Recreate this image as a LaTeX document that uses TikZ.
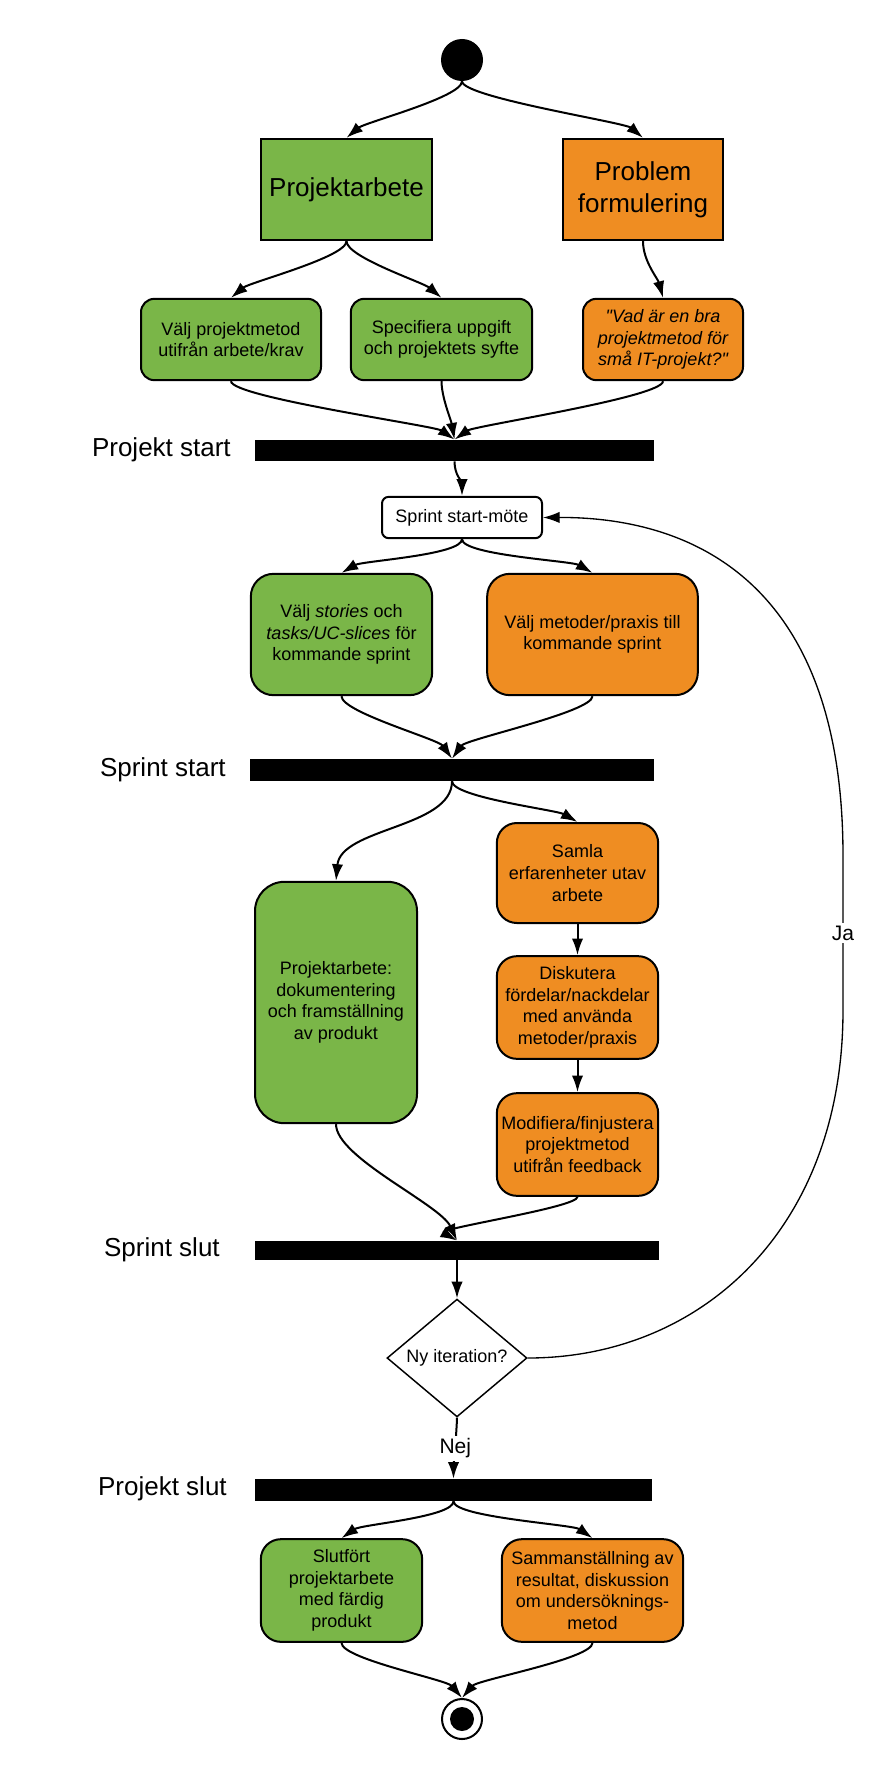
\documentclass[tikz,border=0pt]{standalone}
\usepackage{fontspec}
\setmainfont{Liberation Sans}
\usetikzlibrary{shapes.geometric,arrows.meta}
\definecolor{arbgreen}{HTML}{7AB648}
\definecolor{metorange}{HTML}{EF8D22}

\begin{document}
\begin{tikzpicture}[x=0.75pt,y=0.75pt]
        \useasboundingbox (0,0) rectangle (892,-1780);

        % start and end
        \node[circle,fill=black,minimum size=31.5pt,inner sep=0] (start) at (462,-60) {};
        \node[circle,draw,line width=1.5pt,fill=white,minimum size=30pt,inner sep=0] (end) at (462,-1719) {};
        \node[circle,fill=black,minimum size=18pt,inner sep=0] (endin) at (462,-1719) {};

        % bars
        \begin{scope}[every node/.style={fill=black,inner sep=0}]
          \node[minimum width=299pt,minimum height=16pt]   (bar1) at (454.5,-450.5) {};
          \node[minimum width=303pt,minimum height=16.5pt] (bar2) at (452,-770) {};
          \node[minimum width=303pt,minimum height=14.5pt] (bar3) at (457,-1250.5) {};
          \node[minimum width=298pt,minimum height=16.5pt] (bar4) at (453.5,-1490) {};
        \end{scope}

        \begin{scope}[every node/.style={anchor=base east,inner sep=0,font=\fontsize{19.5}{24}\selectfont}]
          \node (lbl1) at (231,-456) {Projekt start};
          \node (lbl2) at (226,-776) {Sprint start};
          \node (lbl3) at (220,-1256) {Sprint slut};
          \node (lbl4) at (227,-1495) {Projekt slut};
        \end{scope}

        % activities
        \begin{scope}[every node/.style={draw,line width=1.5pt,align=center,inner sep=2pt,
            rounded corners=15pt,font=\fontsize{13.5}{16.2}\selectfont}]
          \node[fill=arbgreen,sharp corners,minimum width=128pt,minimum height=76pt,
                font=\fontsize{19.5}{24}\selectfont] (pa) at (346.5,-189.5) {Projektarbete};
          \node[fill=metorange,sharp corners,minimum width=120pt,minimum height=76pt,
                font=\fontsize{19.5}{24}\selectfont] (pf) at (643,-189.5) {Problem\\formulering};

          \node[fill=arbgreen,minimum width=135pt,minimum height=61pt,rounded corners=10pt] (metod) at (231,-339.5)
            {Välj projektmetod\\utifrån arbete/krav};
          \node[fill=arbgreen,minimum width=136pt,minimum height=61pt,rounded corners=10pt] (syfte) at (441.5,-339.5)
            {Specifiera uppgift\\och projektets syfte};
          \node[fill=metorange,minimum width=120pt,minimum height=61pt,rounded corners=10pt,
                font=\fontsize{13.5}{16.2}\selectfont\itshape] (fraga) at (663,-339.5)
            {\textquotedbl Vad är en bra\\projektmetod för\\små IT-projekt?\textquotedbl};

          \node[fill=white,minimum width=120pt,minimum height=31pt,rounded corners=5pt] (smeet) at (462,-517.5)
            {Sprint start-möte};

          \node[fill=arbgreen,minimum width=136pt,minimum height=91pt,rounded corners=17pt] (stories) at (341.5,-634.5)
            {Välj \textit{stories} och\\\textit{tasks/UC-slices} för\\kommande sprint};
          \node[fill=metorange,minimum width=158pt,minimum height=91pt,rounded corners=17pt] (metoder) at (592.5,-634.5)
            {Välj metoder/praxis till\\kommande sprint};

          \node[fill=arbgreen,minimum width=121.5pt,minimum height=181pt,rounded corners=22pt] (projarb) at (336,-1002.5)
            {Projektarbete:\\dokumentering\\och framställning\\av produkt};
          \node[fill=metorange,minimum width=121pt,minimum height=75pt] (samla) at (577.5,-873)
            {Samla\\erfarenheter utav\\arbete};
          \node[fill=metorange,minimum width=121pt,minimum height=77pt] (disk) at (577.5,-1007.5)
            {Diskutera\\fördelar/nackdelar\\med använda\\metoder/praxis};
          \node[fill=metorange,minimum width=121pt,minimum height=77pt] (modif) at (577.5,-1144.5)
            {Modifiera/finjustera\\projektmetod\\utifrån feedback};

          \node[diamond,sharp corners,line width=1.1pt,fill=white,inner sep=0,minimum width=105pt,minimum height=79.5pt]
            (dia) at (457,-1358) {Ny iteration?};

          \node[fill=arbgreen,minimum width=121pt,minimum height=77pt] (slutf) at (341.5,-1590.5)
            {Slutfört\\projektarbete\\med färdig\\produkt};
          \node[fill=metorange,minimum width=136pt,minimum height=77pt] (samman) at (592.5,-1590.5)
            {Sammanställning av\\resultat, diskussion\\om undersöknings-\\metod};
        \end{scope}

        % flows
        \begin{scope}[every edge/.style={draw,line width=1.5pt,-{Latex[length=12.5pt,width=8.5pt]},
            out=-90,out distance=12pt,in distance=18pt}]
          \path (start.south)   edge[in=40]  (pa.north);
          \path (start.south)   edge[in=140] (pf.north);
          \path (pa.south)      edge[in=40]  (metod.north);
          \path (pa.south)      edge[in=140] (syfte.north);
          \path (pf.south)      edge[in=105,out distance=15pt,in distance=15pt] (fraga.north);
          \path (metod.south)   edge[in=145] (bar1.north);
          \path (syfte.south)   edge[in=100,in distance=15pt] (bar1.north);
          \path (fraga.south)   edge[in=35]  (bar1.north);
          \path (bar1.south)    edge[in=90,out distance=10pt,in distance=10pt] (smeet.north);
          \path (smeet.south)   edge[in=30]  (stories.north);
          \path (smeet.south)   edge[in=150] (metoder.north);
          \path (stories.south) edge[in=125] (bar2.north);
          \path (metoder.south) edge[in=55]  (bar2.north);
          \path (bar2.south)    edge[in=85,out distance=35pt,in distance=40pt] (projarb.north);
          \path (bar2.south)    edge[in=150] (samla.north);
          \path (samla)         edge[in=90]  (disk);
          \path (disk)          edge[in=90]  (modif);
          \path (projarb.south) edge[in=115,out distance=25pt,in distance=30pt] (bar3.north);
          \path (modif.south)   edge[in=150,out distance=8pt] (bar3.north);
          \path (bar3)          edge[in=90]  (dia);
          \path (dia.south)     edge[in=90,out distance=5pt,in distance=5pt]
            node[fill=white,inner sep=2pt,font=\fontsize{15.75}{18}\selectfont] {Nej} (bar4.north);
          \path (bar4.south)    edge[in=35]  (slutf.north);
          \path (bar4.south)    edge[in=145] (samman.north);
          \path (slutf.south)   edge[in=130] (end.north);
          \path (samman.south)  edge[in=50]  (end.north);
        \end{scope}

        % back to next sprint
        \draw[line width=1pt,-{Latex[length=12.5pt,width=8.5pt]}] (dia.east)
          .. controls (700,-1358) and (843,-1230) .. (843,-1010)
          -- node[fill=white,inner sep=2pt,font=\fontsize{15.75}{18}\selectfont] {Ja} (843,-856)
          .. controls (843,-580) and (690,-517) .. (smeet.east);

      \end{tikzpicture}
\end{document}
